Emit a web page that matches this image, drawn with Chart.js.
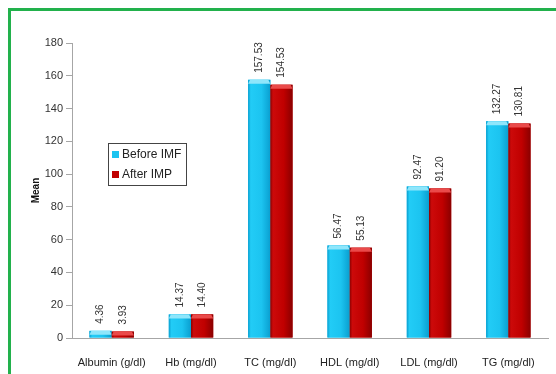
<!DOCTYPE html>
<html>
<head>
<meta charset="utf-8">
<script src="https://cdn.jsdelivr.net/npm/chart.js@4"></script>
<style>
  body { margin: 0; background: #fff; }
  #wrap { position: relative; width: 556px; height: 374px; overflow: hidden; }
  #frame { position: absolute; left: 8px; top: 8px; width: 600px; height: 400px;
           border-left: 3px solid #22b14c; border-top: 3px solid #22b14c; }
  #chart { position: absolute; left: 0; top: 0; }
</style>
</head>
<body>
<div id="wrap">
  <div id="frame"></div>
  <canvas id="chart" width="556" height="374"></canvas>
</div>
<script>
const categories = ["Albumin (g/dl)", "Hb (mg/dl)", "TC (mg/dl)", "HDL (mg/dl)", "LDL (mg/dl)", "TG (mg/dl)"];
const beforeValues = [4.36, 14.37, 157.53, 56.47, 92.47, 132.27];
const afterValues = [3.93, 14.40, 154.53, 55.13, 91.20, 130.81];
const seriesNames = ["Before IMF", "After IMP"];
const yTicks = [0, 20, 40, 60, 80, 100, 120, 140, 160, 180];

// colours: flat, edge, centre, cap
const shades = [
    { flat: "#1cc4f0", edge: "#0a9fd0", mid: "#22ccf6", cap: "#8fe6fb" },
    { flat: "#c00000", edge: "#8a0000", mid: "#cc0a0a", cap: "#ea4a4a" }
];

const barStyle = {
    id: "barStyle",
    afterDatasetsDraw(chart) {
        const ctx = chart.ctx;
        ctx.save();
        chart.data.datasets.forEach((ds, i) => {
            const s = shades[i];
            chart.getDatasetMeta(i).data.forEach((bar, j) => {
                const half = bar.width / 2;
                const left = bar.x - half;
                const h = bar.base - bar.y;
                const g = ctx.createLinearGradient(left, 0, left + bar.width, 0);
                g.addColorStop(0, s.edge);
                g.addColorStop(0.12, s.mid);
                g.addColorStop(0.6, s.flat);
                g.addColorStop(1, s.edge);
                ctx.fillStyle = g;
                ctx.fillRect(left, bar.y, bar.width, h);
                // top bevel
                const capH = Math.min(4, h);
                ctx.fillStyle = s.cap;
                ctx.beginPath();
                ctx.moveTo(left, bar.y + capH);
                ctx.lineTo(left + 2, bar.y);
                ctx.lineTo(left + bar.width - 2, bar.y);
                ctx.lineTo(left + bar.width, bar.y + capH);
                ctx.closePath();
                ctx.fill();

                // value label, rotated
                ctx.save();
                ctx.translate(bar.x, bar.y - 7);
                ctx.rotate(-Math.PI / 2);
                ctx.fillStyle = "#333";
                ctx.font = "10px 'Liberation Sans', Arial, sans-serif";
                ctx.textAlign = "left";
                ctx.textBaseline = "middle";
                ctx.fillText(ds.data[j].toFixed(2), 0, 0);
                ctx.restore();
            });
        });
        ctx.restore();
    }
};

const boxLegend = {
    id: "boxLegend",
    afterDraw(chart) {
        const ctx = chart.ctx;
        ctx.save();
        ctx.strokeStyle = "#444";
        ctx.lineWidth = 1;
        ctx.strokeRect(108.5, 143.5, 78, 42);
        ctx.font = "12px 'Liberation Sans', Arial, sans-serif";
        ctx.textBaseline = "middle";
        seriesNames.forEach((name, i) => {
            const y = 155 + i * 20;
            ctx.fillStyle = shades[i].flat;
            ctx.fillRect(112, y - 4, 7, 7);
            ctx.fillStyle = "#222";
            ctx.fillText(name, 122, y);
        });
        ctx.restore();
    }
};

new Chart(document.getElementById("chart"), {
    type: "bar",
    data: {
        labels: categories,
        datasets: [
            { label: seriesNames[0], data: beforeValues, backgroundColor: shades[0].flat },
            { label: seriesNames[1], data: afterValues, backgroundColor: shades[1].flat }
        ]
    },
    options: {
        responsive: false,
        animation: false,
        layout: { padding: { top: 43, right: 8, left: 0, bottom: 0 } },
        plugins: {
            legend: { display: false },
            tooltip: { enabled: false }
        },
        datasets: {
            bar: { barPercentage: 1, categoryPercentage: 0.56 }
        },
        scales: {
            x: {
                grid: { display: false },
                border: { color: "#a6a6a6", width: 1 },
                ticks: {
                    color: "#222",
                    padding: 10,
                    maxRotation: 0,
                    font: { family: "'Liberation Sans', Arial, sans-serif", size: 11 }
                },
                afterFit(scale) { scale.height = 36; }
            },
            y: {
                min: 0,
                max: 180,
                afterBuildTicks(scale) { scale.ticks = yTicks.map(v => ({ value: v })); },
                grid: { drawOnChartArea: false, tickLength: 6, color: "#a6a6a6" },
                border: { color: "#a6a6a6", width: 1 },
                ticks: {
                    color: "#333",
                    padding: 3,
                    font: { family: "'Liberation Sans', Arial, sans-serif", size: 11 }
                },
                title: {
                    display: true,
                    text: "Mean",
                    color: "#111",
                    padding: { top: 30, bottom: 0 },
                    font: { family: "'Liberation Sans', Arial, sans-serif", size: 10, weight: "bold" }
                },
                afterFit(scale) { scale.width = 72; }
            }
        }
    },
    plugins: [barStyle, boxLegend]
});
</script>
</body>
</html>
